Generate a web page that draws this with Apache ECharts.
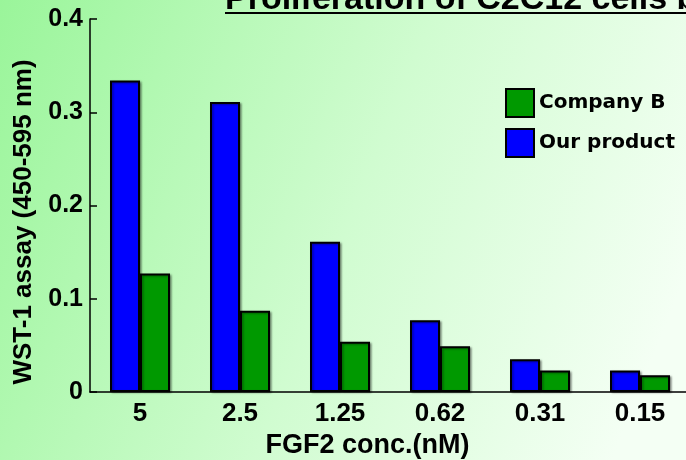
<!DOCTYPE html>
<html>
<head>
<meta charset="utf-8">
<script src="https://cdn.jsdelivr.net/npm/echarts@6/dist/echarts.min.js"></script>
<style>
    html, body { margin: 0; padding: 0; }
    #chart { width: 686px; height: 460px; }
</style>
</head>
<body>
<div id="chart"></div>
<script>
// FGF2 濃度 (nM)
const concLabels = ['5', '2.5', '1.25', '0.62', '0.31', '0.15']
// WST-1 吸光度
const ourProduct = [0.334, 0.311, 0.161, 0.077, 0.035, 0.023]
const companyB = [0.127, 0.087, 0.054, 0.049, 0.023, 0.018]
const yTicks = [0, 0.1, 0.2, 0.3, 0.4]

const axisFont = 'Liberation Sans'

let barStyle = (color) => {
    return {
        color: color,
        borderColor: '#000',
        borderWidth: 2,
        shadowColor: 'rgba(0,0,0,0.35)',
        shadowBlur: 2,
        shadowOffsetX: 1.5,
        shadowOffsetY: 1,
    }
}

let myChart = echarts.init(document.getElementById('chart'))
let option = {
    animation: false,
    backgroundColor: new echarts.graphic.LinearGradient(0, 0, 1, 0.6, [
        { offset: 0, color: '#9af59a' },
        { offset: 0.55, color: '#d0fcd0' },
        { offset: 1, color: '#f4fff4' },
    ]),
    // 上部で切れているタイトル
    graphic: [
        {
            type: 'text',
            left: 225,
            top: -17,
            style: {
                text: 'Proliferation of C2C12 cells by FGF2',
                font: 'bold 34px "Liberation Sans"',
                fill: '#000',
            },
        },
        {
            type: 'line',
            shape: { x1: 225, y1: 13, x2: 700, y2: 13 },
            style: { stroke: '#000', lineWidth: 2 },
        },
    ],
    legend: {
        orient: 'vertical',
        left: 500,
        top: 83,
        icon: 'rect',
        itemWidth: 28,
        itemHeight: 28,
        itemGap: 10,
        data: ['Company B', 'Our product'],
        textStyle: {
            fontFamily: 'DejaVu Sans',
            fontWeight: 'bold',
            fontSize: 20,
            color: '#000',
        },
    },
    grid: {
        left: 90,
        top: 19,
        width: 600,
        height: 373,
        outerBoundsMode: 'none', // 自動縮小しない
    },
    xAxis: {
        type: 'category',
        data: concLabels,
        name: 'FGF2 conc.(nM)',
        nameLocation: 'middle',
        nameGap: 40,
        nameTextStyle: {
            fontFamily: axisFont,
            fontWeight: 'bold',
            fontSize: 27,
            color: '#000',
            padding: [0, 45, 0, 0],
        },
        axisLine: { lineStyle: { color: '#000', width: 1.5 } },
        axisTick: { inside: true, length: 7, lineStyle: { color: '#000', width: 1.5 } },
        axisLabel: {
            margin: 9,
            fontFamily: axisFont,
            fontWeight: 'bold',
            fontSize: 26,
            color: '#000',
        },
    },
    yAxis: {
        type: 'value',
        min: 0,
        max: 0.4,
        interval: 0.1,
        name: 'WST-1 assay (450-595 nm)',
        nameLocation: 'middle',
        nameGap: 53,
        nameTextStyle: {
            fontFamily: axisFont,
            fontWeight: 'bold',
            fontSize: 26,
            color: '#000',
            padding: [0, 33, 0, 0],
        },
        splitLine: { show: false },
        axisLine: { show: true, lineStyle: { color: '#000', width: 1.5 } },
        axisTick: { show: true, inside: true, length: 7, lineStyle: { color: '#000', width: 1.5 } },
        axisLabel: {
            margin: 7,
            fontFamily: axisFont,
            fontWeight: 'bold',
            fontSize: 25,
            color: '#000',
            formatter: (v) => {
                let t = yTicks.find((x) => Math.abs(x - v) < 1e-9)
                return t === 0 ? '0' : String(t)
            },
        },
    },
    series: [
        {
            name: 'Our product',
            type: 'bar',
            barWidth: 30,
            barGap: '0%',
            itemStyle: barStyle('#0000ff'),
            data: ourProduct,
        },
        {
            name: 'Company B',
            type: 'bar',
            barWidth: 30,
            itemStyle: barStyle('#009900'),
            data: companyB,
        },
    ],
}
option && myChart.setOption(option)
</script>
</body>
</html>
